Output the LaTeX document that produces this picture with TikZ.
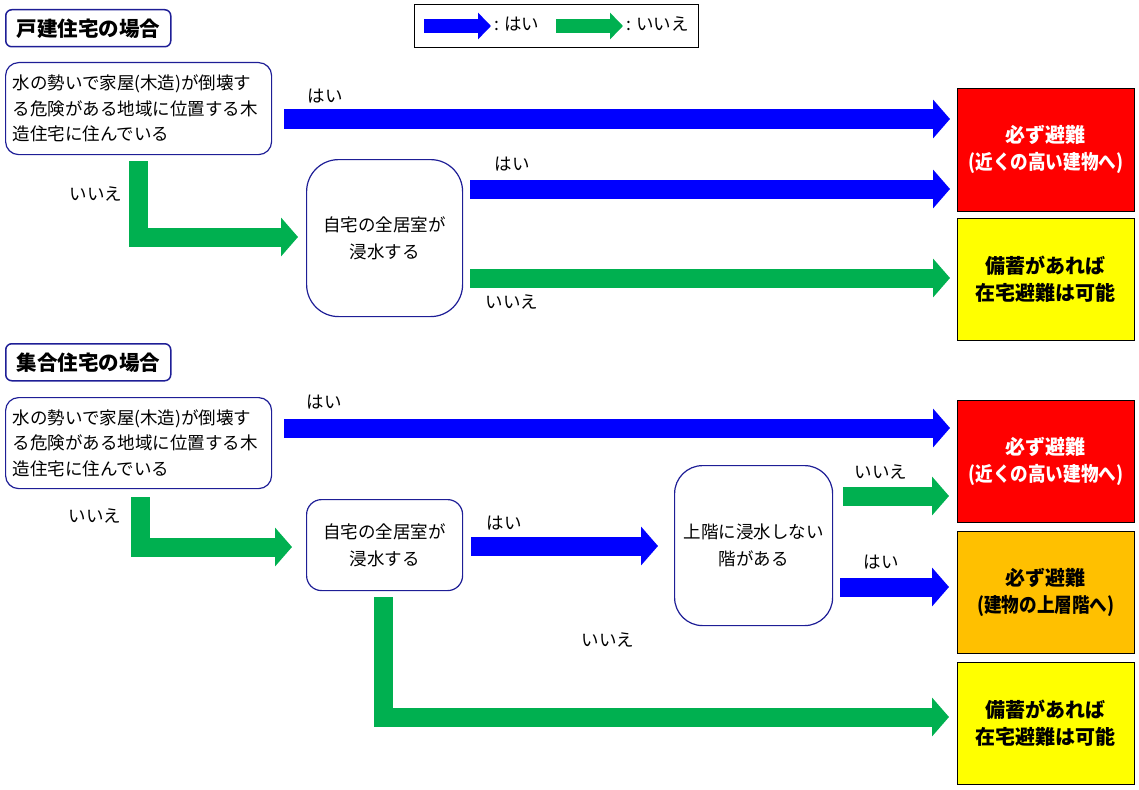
\documentclass[tikz,border=0pt]{standalone}
\usepackage{fontspec}
\setmainfont{Noto Sans CJK JP}
\usetikzlibrary{arrows.meta}

\definecolor{yesblue}{RGB}{0,0,255}
\definecolor{nogreen}{RGB}{0,176,80}
\definecolor{boxnavy}{RGB}{30,30,150}
\definecolor{endred}{RGB}{255,0,0}
\definecolor{endyellow}{RGB}{255,255,0}
\definecolor{endorange}{RGB}{255,192,0}

\newcommand{\tightline}[1]{{\addfontfeature{FakeStretch=0.88}#1}}

\tikzset{
	yesarrow/.style={yesblue, line width=19pt, -{Triangle[length=17pt,width=38pt]}},
	noarrow/.style={yesarrow, nogreen},
	legarrow/.style={line width=14pt, -{Triangle[length=13pt,width=26pt]}},
	lbl/.style={inner sep=0pt, font=\fontsize{17.5}{21}\selectfont},
	titlebox/.style={draw=boxnavy, line width=1.5pt, rounded corners=6pt, anchor=north west, minimum width=165pt, minimum height=37pt, inner sep=0pt, font=\bfseries\fontsize{20.5}{24}\selectfont},
	qbox/.style={draw=boxnavy, line width=1.2pt, rounded corners=13pt, anchor=north west, text width=252pt, inner xsep=7pt, inner ysep=0pt, minimum height=92pt, align=left, font=\fontsize{17.5}{25.5}\selectfont},
	homebox/.style={draw=boxnavy, line width=1.2pt, anchor=north west, minimum width=156pt, inner sep=0pt, align=center, font=\fontsize{17.5}{27}\selectfont},
	endbox/.style={draw=black, line width=0.8pt, anchor=north west, minimum width=177pt, minimum height=123pt, inner sep=0pt, align=center, font=\bfseries\fontsize{20}{27}\selectfont}
}

\begin{document}
\begin{tikzpicture}[x=1pt, y=-1pt]
	\useasboundingbox (0,0) rectangle (1139,789);

	\node[draw, line width=1pt, anchor=north west, minimum width=284pt, minimum height=43pt] (legend) at (414,4) {};
	\coordinate (legyes) at (424,26);
	\coordinate (legno) at (556,26);
	\node[lbl, anchor=west] (legyestxt) at (494,24) {: はい};
	\node[lbl, anchor=west] (legnotxt) at (626,24) {: いいえ};
	\draw[yesarrow, legarrow, shorten >=3pt] (legyes) -- (legyestxt.west |- legyes);
	\draw[noarrow, legarrow, shorten >=3pt] (legno) -- (legnotxt.west |- legno);

	\node[titlebox] (t1) at (5,9) {戸建住宅の場合};
	\node[qbox] (q1) at (5,62) {水の勢いで家屋(木造)が倒壊す\\る危険がある地域に位置する木\\造住宅に住んでいる};
	\node[homebox, minimum height=157pt, rounded corners=32pt] (h1) at (306,159) {自宅の全居室が\\浸水する};
	\node[endbox, fill=endred, text=white] (red1) at (957,88) {必ず避難\\\tightline{(近くの高い建物へ)}};
	\node[endbox, fill=endyellow, minimum height=122pt] (yel1) at (957,218) {備蓄があれば\\在宅避難は可能};

	\node[titlebox] (t2) at (5,343) {集合住宅の場合};
	\node[qbox, minimum height=91pt] (q2) at (5,397) {水の勢いで家屋(木造)が倒壊す\\る危険がある地域に位置する木\\造住宅に住んでいる};
	\node[homebox, minimum height=91pt, rounded corners=15pt] (h2) at (306,499) {自宅の全居室が\\浸水する};
	\node[homebox, minimum width=158pt, minimum height=160pt, rounded corners=28pt] (f2) at (674,465) {上階に浸水しない\\階がある};
	\node[endbox, fill=endred, text=white, minimum height=122pt] (red2) at (957,400) {必ず避難\\\tightline{(近くの高い建物へ)}};
	\node[endbox, fill=endorange, minimum height=122pt] (ora2) at (957,531) {必ず避難\\\tightline{(建物の上層階へ)}};
	\node[endbox, fill=endyellow, minimum height=122pt] (yel2) at (957,662) {備蓄があれば\\在宅避難は可能};

	\foreach \from/\to/\y/\st/\ga/\gb in {q1/red1/119/yesarrow/12/7, h1/red1/189/yesarrow/7/7, h1/yel1/278/noarrow/7/7, q2/red2/428/yesarrow/12/7, h2/f2/546/yesarrow/8/16, f2/red2/496/noarrow/10/8, f2/ora2/587/yesarrow/7/8}
		\draw[\st, shorten <=\ga pt, shorten >=\gb pt] (\from.east |- 0,\y) -- (\to.west |- 0,\y);

	\draw[noarrow, shorten <=6pt, shorten >=8pt] (q1.south -| 138,0) |- (h1.west |- 0,237);
	\draw[noarrow, shorten <=8pt, shorten >=14pt] (q2.south -| 140,0) |- (h2.west |- 0,547);
	\draw[noarrow, shorten <=6pt, shorten >=8pt] (h2.south -| 383,0) |- (yel2.west |- 0,717);

	\foreach \n/\x/\y/\t in {ya/325/96/はい, na/96/194/いいえ, yb/512/164/はい, nb/512/302/いいえ, yc/324/402/はい, nc/95/516/いいえ, yd/504/523/はい, nd/608/640/いいえ, ne/881/472/いいえ, ye/881/562/はい}
		\node[lbl] (\n) at (\x,\y) {\t};
\end{tikzpicture}
\end{document}
